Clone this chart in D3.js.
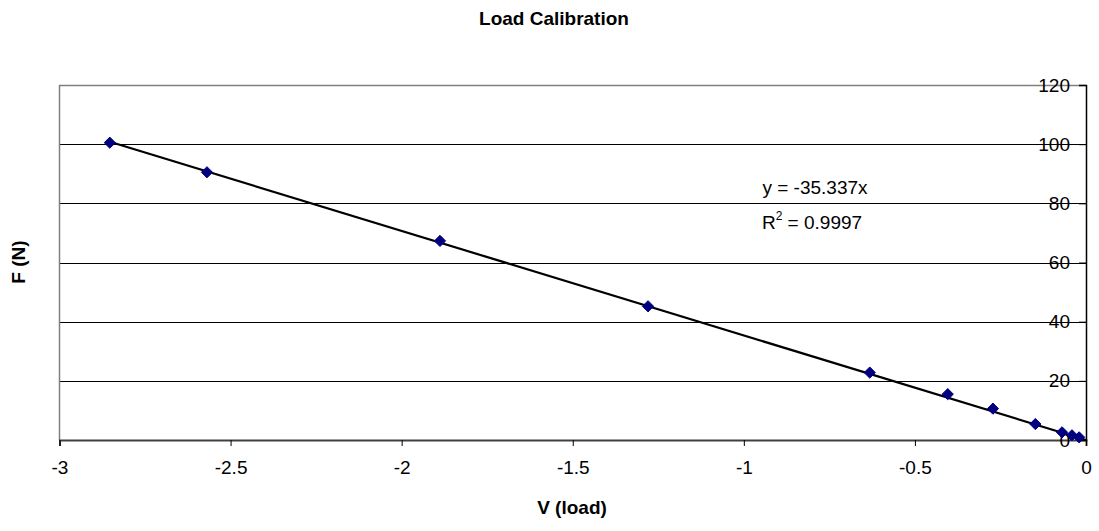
<!DOCTYPE html>
<html>
<head>
<meta charset="utf-8">
<script src="https://cdn.jsdelivr.net/npm/d3@7"></script>
<style>
  html, body { margin: 0; padding: 0; background: #fff; }
  svg { display: block; font-family: "Liberation Sans", Arial, sans-serif; }
</style>
</head>
<body>
<svg id="chart" width="1099" height="531"></svg>
<script>
// Data
const voltage = [-2.853, -2.569, -1.888, -1.28, -0.632, -0.404, -0.272, -0.148, -0.07, -0.041, -0.02];
const force   = [100.5, 90.5, 67.3, 45.2, 22.8, 15.5, 10.6, 5.4, 2.6, 1.6, 0.9];
const xTicks = [-3, -2.5, -2, -1.5, -1, -0.5, 0];
const yTicks = [0, 20, 40, 60, 80, 100, 120];
const slope = -35.337;
const titleText = "Load Calibration";
const xLabel = "V (load)";
const yLabel = "F (N)";

const svg = d3.select("#chart");
const L = 59.5, R = 1086, T = 85, B = 440;
const x = d3.scaleLinear().domain([-3, 0]).range([L, R]);
const y = d3.scaleLinear().domain([0, 120]).range([B, T]);

// gridlines
svg.append("g").selectAll("line").data(yTicks.filter(d => d > 0 && d < 120)).join("line")
  .attr("x1", L).attr("x2", R)
  .attr("y1", d => Math.round(y(d)) + 0.5).attr("y2", d => Math.round(y(d)) + 0.5)
  .attr("stroke", "#000").attr("stroke-width", 1);

// plot border (left, top)
svg.append("path")
  .attr("d", `M${L},${B} V${T + 0.5} H${R}`)
  .attr("fill", "none").attr("stroke", "#808080").attr("stroke-width", 1.5);

// x axis
const xAxis = d3.axisBottom(x).tickValues(xTicks).tickSize(6).tickPadding(15)
  .tickFormat(d => d === 0 ? "0" : d3.format("")(d).replace("−", "-"));
const gx = svg.append("g").attr("transform", `translate(0,${B})`).call(xAxis);
gx.select(".domain").attr("stroke", "#404040").attr("stroke-width", 2);
gx.selectAll(".tick line").attr("stroke", "#000");
gx.selectAll("text").attr("font-size", 19).attr("fill", "#000")
  .attr("font-family", "Liberation Sans, Arial, sans-serif");

// y axis (on the right, labels drawn inside)
const yAxis = d3.axisLeft(y).tickValues(yTicks).tickSize(7).tickPadding(9).tickFormat(d3.format("d"));
const gy = svg.append("g").attr("transform", `translate(${R},0)`).call(yAxis);
gy.select(".domain").attr("stroke", "#000").attr("stroke-width", 1.5);
gy.selectAll(".tick line").attr("stroke", "#000");
gy.selectAll("text").attr("font-size", 19).attr("fill", "#000")
  .attr("font-family", "Liberation Sans, Arial, sans-serif");

// trendline
const xMin = d3.min(voltage);
svg.append("line")
  .attr("x1", x(xMin)).attr("y1", y(slope * xMin))
  .attr("x2", x(0)).attr("y2", y(0))
  .attr("stroke", "#000").attr("stroke-width", 2.2);

// markers
const pts = voltage.map((v, i) => [v, force[i]]);
svg.append("g").selectAll("path").data(pts).join("path")
  .attr("d", d3.symbol().type(d3.symbolDiamond2).size(80))
  .attr("transform", d => `translate(${x(d[0])},${y(d[1])})`)
  .attr("fill", "#000080").attr("stroke", "#000080").attr("stroke-width", 1);

// trendline equation
svg.append("text").attr("x", 815).attr("y", 194).attr("text-anchor", "middle")
  .attr("font-size", 19).text("y = -35.337x");
const r2 = svg.append("text").attr("x", 812).attr("y", 229).attr("text-anchor", "middle")
  .attr("font-size", 19);
r2.append("tspan").text("R");
r2.append("tspan").attr("font-size", 12).attr("dy", -9).text("2");
r2.append("tspan").attr("dy", 9).text(" = 0.9997");

// title
svg.append("text").attr("x", 554).attr("y", 25).attr("text-anchor", "middle")
  .attr("font-size", 19).attr("font-weight", "bold").text(titleText);

// axis titles
svg.append("text").attr("x", 572).attr("y", 514).attr("text-anchor", "middle")
  .attr("font-size", 19).attr("font-weight", "bold").text(xLabel);
svg.append("text").attr("transform", "translate(25,262) rotate(-90)").attr("text-anchor", "middle")
  .attr("font-size", 19).attr("font-weight", "bold").text(yLabel);
</script>
</body>
</html>
